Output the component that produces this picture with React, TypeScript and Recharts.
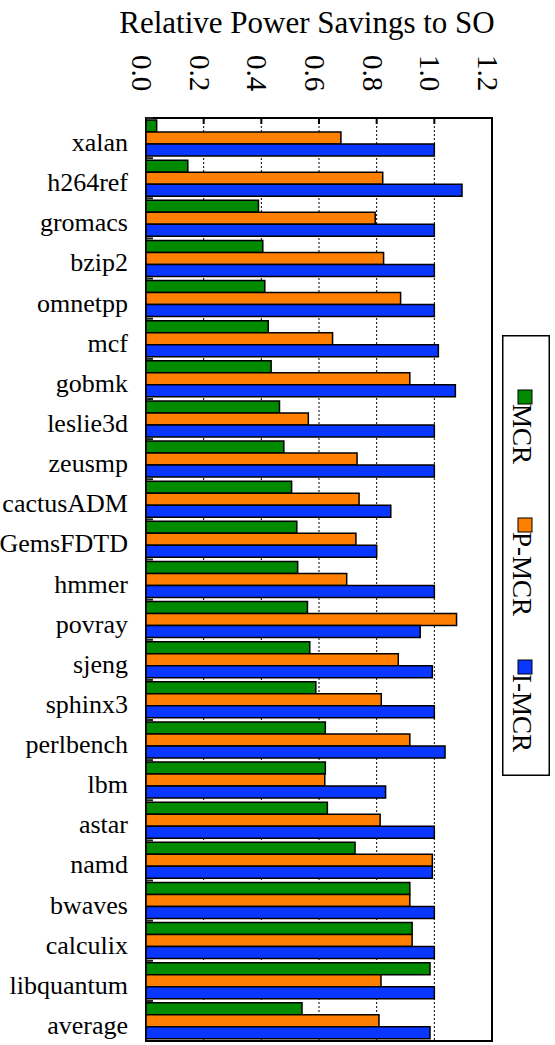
import React from 'react';
import { BarChart, Bar, XAxis, YAxis, CartesianGrid, Legend, ReferenceArea } from 'recharts';

const categories = ['xalan', 'h264ref', 'gromacs', 'bzip2', 'omnetpp', 'mcf', 'gobmk', 'leslie3d', 'zeusmp', 'cactusADM', 'GemsFDTD', 'hmmer', 'povray', 'sjeng', 'sphinx3', 'perlbench', 'lbm', 'astar', 'namd', 'bwaves', 'calculix', 'libquantum', 'average'];
const mcr = [0.037, 0.145, 0.39, 0.405, 0.412, 0.424, 0.434, 0.463, 0.478, 0.505, 0.523, 0.526, 0.56, 0.568, 0.589, 0.622, 0.622, 0.629, 0.725, 0.915, 0.923, 0.985, 0.541];
const pmcr = [0.676, 0.821, 0.795, 0.824, 0.883, 0.647, 0.915, 0.563, 0.732, 0.739, 0.728, 0.696, 1.077, 0.875, 0.816, 0.915, 0.62, 0.812, 0.993, 0.915, 0.923, 0.815, 0.808];
const imcr = [1.0, 1.096, 1.0, 1.0, 1.0, 1.014, 1.073, 1.0, 1.0, 0.849, 0.8, 1.0, 0.951, 0.993, 1.0, 1.037, 0.831, 1.0, 0.993, 1.0, 1.0, 1.0, 0.985];
const xTicks = [0, 0.2, 0.4, 0.6, 0.8, 1.0, 1.2];
const seriesNames = ['MCR', 'P-MCR', 'I-MCR'];
const seriesColors = ['#008a00', '#ff8000', '#0a37ff'];
const title = 'Relative Power Savings to SO';

const data = categories.map((name, i) => ({ name, mcr: mcr[i], pmcr: pmcr[i], imcr: imcr[i] }));

const FONT = '"Liberation Serif", "Times New Roman", Times, serif';

const XTick = (props: any) => {
  const { x, y, payload } = props;
  const ty = 55;
  const tx = x - 4;
  return (
    <g>
      <line x1={x} x2={x} y1={y} y2={y + 6} stroke="#000" strokeWidth={2} />
      <text
        x={tx}
        y={ty}
        transform={`rotate(90, ${tx}, ${ty})`}
        textAnchor="start"
        dominantBaseline="central"
        fontFamily={FONT}
        style={{ fontFamily: FONT }}
        fontSize={29}
        fill="#000"
      >
        {Number(payload.value).toFixed(1)}
      </text>
    </g>
  );
};

const YTick = (props: any) => {
  const { x, y, payload } = props;
  return (
    <g>
      <text
        x={x - 18}
        y={y + 13}
        textAnchor="end"
        fontFamily={FONT}
        style={{ fontFamily: FONT }}
        fontSize={26}
        fill="#000"
      >
        {payload.value}
      </text>
      <line x1={x} x2={x + 7} y1={y - 20} y2={y - 20} stroke="#222" strokeWidth={2} />
    </g>
  );
};

const TitleLabel = () => (
  <text x={307} y={33} textAnchor="middle" fontFamily={FONT} style={{ fontFamily: FONT }} fontSize={31} fill="#000">
    {title}
  </text>
);

const legendTops = [55, 183, 325];

const renderLegend = () => (
  <svg width={48} height={441} style={{ display: 'block', fontFamily: FONT }}>
    <rect x={0.75} y={0.75} width={46.5} height={439.5} fill="#fff" stroke="#000" strokeWidth={1.5} />
    {seriesNames.map((name, i) => {
      const top = legendTops[i];
      const ty = top + 14;
      return (
        <g key={name}>
          <rect x={16} y={top} width={14} height={14} fill={seriesColors[i]} stroke="#000" strokeWidth={1} />
          <text
            x={11}
            y={ty}
            transform={`rotate(90, 11, ${ty})`}
            fontFamily={FONT}
            style={{ fontFamily: FONT }}
            fontSize={27}
            fill="#000"
          >
            {name}
          </text>
        </g>
      );
    })}
  </svg>
);

export default function App() {
  return (
    <div style={{ position: 'absolute', left: 0, top: 0, width: 555, height: 1045, background: '#fff', fontFamily: FONT }}>
      <BarChart
        width={555}
        height={1045}
        data={data}
        layout="vertical"
        margin={{ top: 0, right: 63, bottom: 4, left: 0 }}
        barCategoryGap={2}
        barGap={0}
        style={{ fontFamily: FONT }}
      >
        <CartesianGrid horizontal={false} vertical stroke="#000" strokeDasharray="2 2" strokeWidth={1} />
        <XAxis
          type="number"
          orientation="top"
          domain={[0, 1.2]}
          ticks={xTicks}
          interval={0}
          height={118}
          tickSize={0}
          tickMargin={0}
          axisLine={false}
          tick={<XTick />}
          label={<TitleLabel />}
        />
        <YAxis
          type="category"
          dataKey="name"
          width={146}
          tickSize={0}
          tickMargin={0}
          axisLine={false}
          interval={0}
          tick={<YTick />}
        />
        <Legend
          layout="horizontal"
          verticalAlign="middle"
          align="center"
          content={renderLegend}
          wrapperStyle={{ left: 502, top: 335, width: 48, height: 441 }}
        />
        <Bar dataKey="mcr" name={seriesNames[0]} fill={seriesColors[0]} stroke="#000" strokeWidth={1.5} isAnimationActive={false} />
        <Bar dataKey="pmcr" name={seriesNames[1]} fill={seriesColors[1]} stroke="#000" strokeWidth={1.5} isAnimationActive={false} />
        <Bar dataKey="imcr" name={seriesNames[2]} fill={seriesColors[2]} stroke="#000" strokeWidth={1.5} isAnimationActive={false} />
        <ReferenceArea x1={0} x2={1.2} fill="none" stroke="#000" strokeWidth={2} ifOverflow="visible" />
      </BarChart>
    </div>
  );
}
